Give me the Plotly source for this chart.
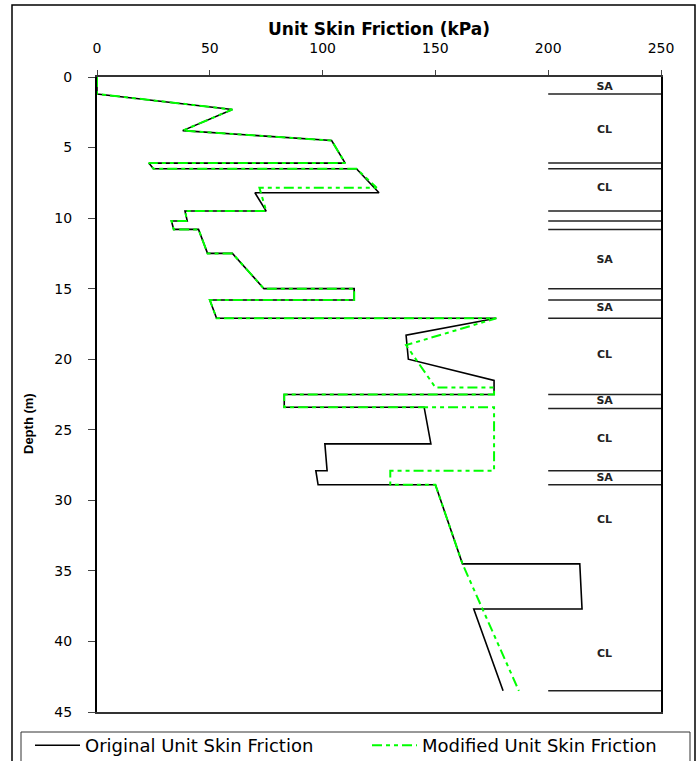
import plotly.graph_objects as go

# ---------------- data ----------------
# Original unit skin friction profile (kPa vs depth m)
orig_friction = [0, 0, 60, 38, 104, 110, 23, 25, 115, 125, 70, 75, 39, 40, 33, 34,
                 45, 49, 60, 74, 114, 114, 50, 53, 177, 137, 138, 176, 176, 83, 83,
                 145, 148, 101, 102, 97, 98, 150, 162, 214, 215, 167, 180]
orig_depth = [0, 1.2, 2.3, 3.8, 4.5, 6.1, 6.1, 6.5, 6.5, 8.2, 8.2, 9.5, 9.5, 10.2,
              10.2, 10.8, 10.8, 12.5, 12.5, 15.0, 15.0, 15.8, 15.8, 17.1, 17.1, 18.3,
              20.0, 21.5, 22.5, 22.5, 23.4, 23.4, 26.0, 26.0, 27.9, 27.9, 28.9, 28.9,
              34.5, 34.5, 37.7, 37.7, 43.5]

# Modified unit skin friction profile
mod_friction = [0, 0, 60, 38, 104, 110, 23, 25, 115, 124, 72, 75, 39, 40, 33, 34,
                45, 49, 60, 74, 114, 114, 50, 53, 177, 137, 150, 176, 176, 83, 83,
                176, 176, 130, 130, 150, 162, 187]
mod_depth = [0, 1.2, 2.3, 3.8, 4.5, 6.1, 6.1, 6.5, 6.5, 7.85, 7.85, 9.5, 9.5, 10.2,
             10.2, 10.8, 10.8, 12.5, 12.5, 15.0, 15.0, 15.8, 15.8, 17.1, 17.1, 19.0,
             22.0, 22.0, 22.5, 22.5, 23.4, 23.4, 27.9, 27.9, 28.9, 28.9, 34.5, 43.5]

# Soil log column
layer_boundaries = [1.2, 6.1, 6.5, 9.5, 10.2, 10.8, 15.0, 15.8, 17.1, 22.5, 23.5,
                    27.9, 28.9, 43.5]
layer_x_range = [200, 250]
soil_labels = ["SA", "CL", "CL", "SA", "SA", "CL", "SA", "CL", "SA", "CL", "CL"]
soil_label_depths = [0.7, 3.8, 7.9, 13.0, 16.4, 19.7, 23.0, 25.7, 28.4, 31.4, 40.9]
soil_label_x = 225

x_ticks = [0, 50, 100, 150, 200, 250]
y_ticks = [0, 5, 10, 15, 20, 25, 30, 35, 40, 45]

# ---------------- layout helpers (pixel -> paper) ----------------
W, H = 699, 761
L, R, T, B = 97, 38, 77, 49
PW, PH = W - L - R, H - T - B


def px_x(p):
    return (p - L) / PW


def px_y(p):
    return (H - B - p) / PH


FONT = "DejaVu Sans, Liberation Sans, Arial, sans-serif"

fig = go.Figure()

# soil layer boundary lines
lx, ly = [], []
for d in layer_boundaries:
    lx += [layer_x_range[0], layer_x_range[1], None]
    ly += [d, d, None]
fig.add_trace(go.Scatter(x=lx, y=ly, mode="lines", showlegend=False,
                         line=dict(color="#222222", width=1.5), hoverinfo="skip"))

# soil labels
fig.add_trace(go.Scatter(x=[soil_label_x] * len(soil_labels), y=soil_label_depths,
                         text=soil_labels, mode="text", showlegend=False,
                         textfont=dict(family=FONT, size=11, color="#222222", weight="bold"),
                         hoverinfo="skip"))

fig.add_trace(go.Scatter(x=orig_friction, y=orig_depth, mode="lines",
                         name="Original Unit Skin Friction",
                         line=dict(color="black", width=1.6)))
fig.add_trace(go.Scatter(x=mod_friction, y=mod_depth, mode="lines",
                         name="Modified Unit Skin Friction", legendwidth=250,
                         line=dict(color="#00FF00", width=2,
                                   dash="10px,4px,4px,4px,4px,4px")))

fig.update_xaxes(range=[0, 250], side="top", tickvals=x_ticks, ticks="outside",
                 ticklen=5, tickcolor="#444", showgrid=False, zeroline=False,
                 showline=True, linecolor="#333", linewidth=1.5, mirror=True,
                 tickfont=dict(family=FONT, size=14, color="black"),
                 ticklabelstandoff=12,
                 title=dict(text="Unit Skin Friction (kPa)", standoff=0,
                            font=dict(family=FONT, size=17, color="black", weight="bold")))
fig.update_yaxes(range=[45, 0], tickvals=y_ticks, ticks="outside", ticklen=7,
                 tickcolor="#444", showgrid=False, zeroline=False, showline=True,
                 linecolor="black", linewidth=2, mirror=True,
                 tickfont=dict(family=FONT, size=14, color="black"),
                 ticklabelstandoff=13)

# y-axis title (placed like the reference, below the axis centre)
fig.add_annotation(text="Depth (m)", textangle=-90, xref="paper", yref="paper",
                   x=px_x(28), y=px_y(424), xanchor="center", yanchor="middle",
                   showarrow=False,
                   font=dict(family="Liberation Sans Narrow, Liberation Sans, Arial, sans-serif",
                             size=13, color="black", weight="bold"))

# outer frame and legend box
fig.add_shape(type="rect", xref="paper", yref="paper", x0=px_x(12), x1=px_x(695),
              y0=px_y(775), y1=px_y(5), line=dict(color="black", width=1.5), layer="below")
fig.add_shape(type="rect", xref="paper", yref="paper", x0=px_x(21), x1=px_x(690),
              y0=px_y(775), y1=px_y(732), line=dict(color="#333", width=1), layer="below")

fig.update_layout(
    width=W, height=H, margin=dict(l=L, r=R, t=T, b=B, autoexpand=False),
    paper_bgcolor="white", plot_bgcolor="white",
    legend=dict(orientation="h", x=px_x(30), xanchor="left", y=px_y(727), yanchor="top",
                itemwidth=45, entrywidth=277, bgcolor="rgba(0,0,0,0)", borderwidth=0,
                font=dict(family=FONT, size=18, color="black")),
)

fig.write_html("out.html", config={"displayModeBar": False},
               post_script="document.body.style.margin='0px';")
